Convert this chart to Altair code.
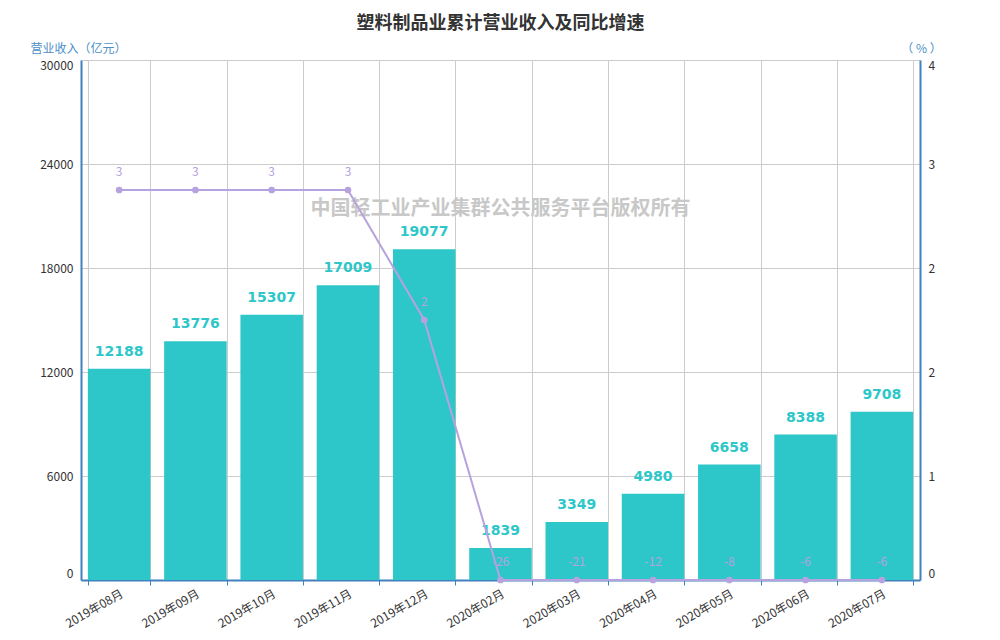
import altair as alt
import pandas as pd

months = ["2019年08月", "2019年09月", "2019年10月", "2019年11月", "2019年12月",
          "2020年02月", "2020年03月", "2020年04月", "2020年05月", "2020年06月", "2020年07月"]
revenue = [12188, 13776, 15307, 17009, 19077, 1839, 3349, 4980, 6658, 8388, 9708]
growth = [3, 3, 3, 3, 2, -26, -21, -12, -8, -6, -6]
left_ticks = [0, 6000, 12000, 18000, 24000, 30000]
right_ticks = [0, 0.8, 1.6, 2.4, 3.2, 4]

TITLE = "塑料制品业累计营业收入及同比增速"
WATERMARK = "中国轻工业产业集群公共服务平台版权所有"

df = pd.DataFrame({
    "month": months,
    "revenue": revenue,
    "growth": growth,
    "growth_label": [str(g) for g in growth],
})

BAR = "#2ec7c9"
LINE = "#b6a2de"
AXIS = "#3f82bd"
AXIS_TITLE = "#4a8fc7"
FONT = "Noto Sans CJK SC"
W, H = 839, 520

x = alt.X(
    "month:N", sort=None, title=None,
    scale=alt.Scale(paddingInner=0.18, paddingOuter=0.09),
    axis=alt.Axis(
        labelAngle=-30, labelAlign="right", labelBaseline="top", labelPadding=3,
        labelFontSize=12, labelColor="#333", labelFont=FONT,
        tickBand="extent", grid=True, gridColor="#cccccc", gridWidth=1,
        domainColor=AXIS, domainWidth=2, tickColor=AXIS, tickSize=5,
    ),
)

y_left = alt.Y(
    "revenue:Q",
    scale=alt.Scale(domain=[0, 30000], nice=False),
    axis=alt.Axis(
        values=left_ticks, format="d", title="营业收入（亿元）",
        titleAngle=0, titleX=-3, titleY=-12, titleAlign="center", titleBaseline="middle",
        titleColor=AXIS_TITLE, titleFontSize=12, titleFontWeight="normal", titleFont=FONT,
        labelFontSize=12, labelColor="#333", labelFont=FONT, labelPadding=8,
        labelFlush=True,
        ticks=False, grid=True, gridColor="#cccccc",
        domainColor=AXIS, domainWidth=2,
    ),
)

y_right = alt.Y(
    "growth:Q",
    scale=alt.Scale(domain=[0, 4], nice=False, clamp=True),
    axis=alt.Axis(
        orient="right", values=right_ticks, format=".0f", title="（ % ）",
        titleAngle=0, titleX=1, titleY=-12, titleAlign="center", titleBaseline="middle",
        titleColor=AXIS_TITLE, titleFontSize=12, titleFontWeight="normal", titleFont=FONT,
        labelFontSize=12, labelColor="#333", labelFont=FONT, labelPadding=8,
        labelFlush=True,
        ticks=False, grid=False, domainColor=AXIS, domainWidth=2,
    ),
)

base = alt.Chart(df)

bars = base.mark_bar(color=BAR).encode(x=x, y=y_left)
bar_text = base.mark_text(
    color=BAR, fontWeight="bold", fontSize=14, dy=-17, font="DejaVu Sans"
).encode(x=x, y="revenue:Q", text=alt.Text("revenue:Q", format="d"))

wm = alt.Chart(pd.DataFrame({"t": [WATERMARK]})).mark_text(
    fontSize=20, fontWeight="bold", color="#c8c8c8", font=FONT
).encode(x=alt.value(W / 2), y=alt.value(149), text="t:N")

line = base.mark_line(color=LINE, strokeWidth=2).encode(x=x, y=y_right)
pts = base.mark_circle(color=LINE, size=45, opacity=1).encode(x=x, y="growth:Q")
line_text = base.mark_text(
    color=LINE, fontSize=12, dy=-18, font=FONT
).encode(x=x, y="growth:Q", text="growth_label:N")

left = alt.layer(bars, bar_text, wm)
right = alt.layer(line, pts, line_text)

chart = alt.layer(left, right).resolve_scale(y="independent").properties(
    width=W, height=H,
    title=alt.TitleParams(
        TITLE, fontSize=18, fontWeight="bold", color="#333", anchor="middle",
        offset=9, font=FONT,
    ),
    autosize=alt.AutoSizeParams(type="none"),
    padding={"left": 73, "top": 52, "right": 70, "bottom": 60},
).configure_view(stroke=None)

chart.save("out.html", embed_options={"renderer": "svg", "actions": False})
